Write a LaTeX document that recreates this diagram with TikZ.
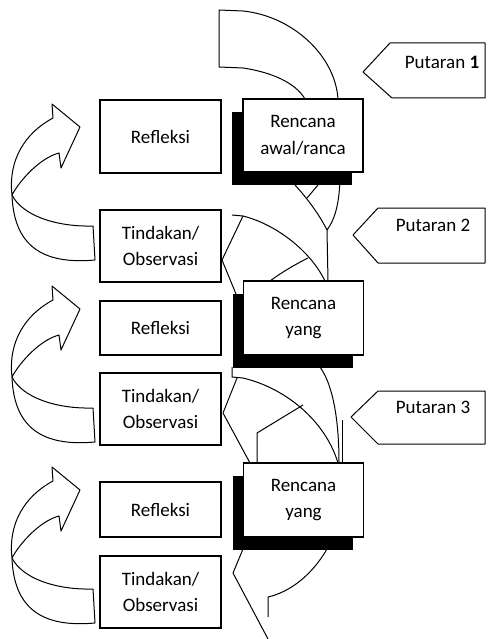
\documentclass[tikz,border=0pt]{standalone}
\usepackage{fontspec}
\setmainfont{Carlito}
\usetikzlibrary{shadows}
\pgfdeclarelayer{bg}
\pgfsetlayers{bg,main}
\begin{document}
\begin{tikzpicture}[x=1pt,y=-1pt,
  ln/.style={line width=1pt, line join=round},
  box/.style={draw, line width=1.1pt, fill=white, inner sep=0pt, align=center,
    font=\fontsize{19}{26.5}\selectfont, minimum width=121pt},
  rbox/.style={box, minimum width=120pt,
    drop shadow={shadow xshift=-11pt, shadow yshift=-13pt, opacity=1, fill=black}},
  lbl/.style={font=\fontsize{19}{24}\selectfont, inner sep=0pt}]
\useasboundingbox (0,0) rectangle (495,639);

% left boxes
\node[box, minimum height=73pt] (ref1) at (160.5,136.5) {Refleksi};
\node[box, minimum height=72pt] (tin1) at (160.5,246) {Tindakan/\\Observasi};
\node[box, minimum height=54pt] (ref2) at (160.5,328) {Refleksi};
\node[box, minimum height=72pt] (tin2) at (160.5,409) {Tindakan/\\Observasi};
\node[box, minimum height=55pt] (ref3) at (160.5,509.5) {Refleksi};
\node[box, minimum height=72pt] (tin3) at (160.5,592) {Tindakan/\\Observasi};

% right boxes
\node[rbox, minimum height=73pt] (ren1) at (303,135.5) {Rencana\\awal/ranca};
\node[rbox, minimum height=74pt] (ren2) at (303.5,318) {Rencana\\yang};
\node[rbox, minimum height=74pt] (ren3) at (303.5,500) {Rencana\\yang};

% round labels
\node[lbl] (p1) at (442,62) {Putaran \textbf{1}};
\node[lbl] (p2) at (433,225) {Putaran 2};
\node[lbl] (p3) at (433,407) {Putaran 3};
\draw[ln] (363,72) -- (390,43) -- (485,43) -- (485,98) -- (392,98) -- cycle;
\draw[ln] (353,235) -- (378,208) -- (485,208) -- (485,263) -- (378,263) -- cycle;
\draw[ln] (351,417) -- (378,391) -- (485,391) -- (485,444) -- (378,444) -- cycle;

\begin{pgfonlayer}{bg}
% top curved arrow into first plan
\draw[ln] (243,11) -- (219,10) -- (219,67) -- (243,68);
\draw[ln] (243,11) .. controls (292,16) and (335,55) .. (338,99);
\draw[ln] (243,68) .. controls (270,72) and (295,82) .. (305,99);

% between plan 1 and plan 2
\draw[ln] (295,185) .. controls (305,196) and (318,212) .. (327,230);
\draw[ln] (318,185) -- (307,198);
\draw[ln] (340,172) .. controls (340,200) and (336,218) .. (327,230) -- (328,281);
\draw[ln] (232,215) -- (243,216) .. controls (275,224) and (310,250) .. (325,281);
\draw[ln] (270,281) .. controls (282,272) and (296,264) .. (308,258);
\draw[ln] (243,216) -- (222,260) -- (236,294);

% between plan 2 and plan 3
\draw[ln] (320,367) .. controls (333,385) and (339,420) .. (339,463);
\draw[ln] (342,420) -- (342,463);
\draw[ln] (232,367) -- (232,377) -- (243,378) .. controls (285,388) and (325,420) .. (338,463);
\draw[ln] (257,463) -- (257,433) -- (303,405);
\draw[ln] (237,378) -- (223,413) -- (250,463);

% below plan 3
\draw[ln] (243,549) -- (233,573) -- (268,639);
\draw[ln] (327,549) .. controls (312,575) and (290,592) .. (268,597) -- (268,617);

% left curved arrows
\foreach \dy in {0,182,363} {
  \begin{scope}[shift={(0,\dy)}]
    \draw[ln] (93,226) .. controls (55,227) and (22,215) .. (12,195);
    \draw[ln] (95,260) .. controls (50,264) and (14,252) .. (12,195);
    \draw[ln] (93,226) -- (95,260);
    \draw[ln] (12,195) .. controls (8,160) and (25,133) .. (53,118) -- (52,104)
      -- (80,127) -- (61,168) -- (59,153) .. controls (40,158) and (20,180) .. (12,195);
  \end{scope}
}
\end{pgfonlayer}
\end{tikzpicture}
\end{document}
